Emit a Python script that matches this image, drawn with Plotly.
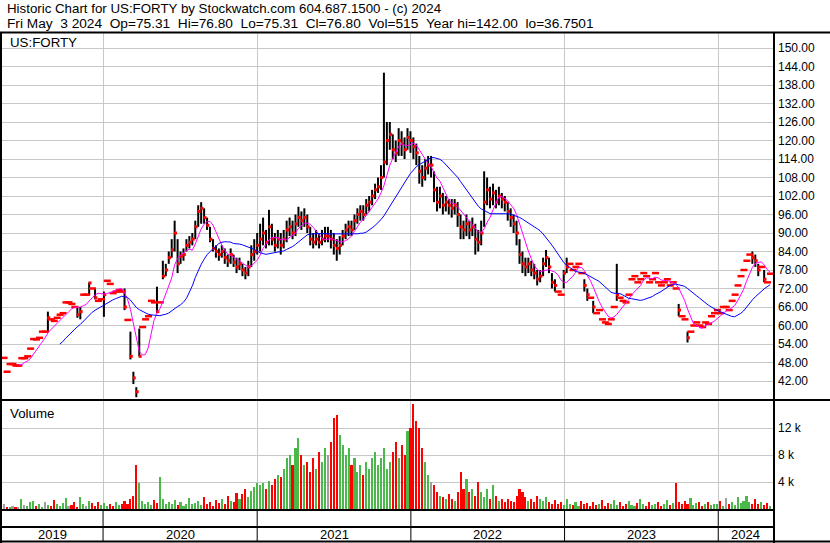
import pandas as pd
import plotly.graph_objects as go

# ---------------- DATA (weekly) ----------------
first_week = "2019-05-10"

close_2019 = [49.5,45,47.5,47.5,47,47,49.4,49.4,50,52.5,55.6,55.5,56,58,58,62.5,62,61.5,62.5,63.5,
              64,67.5,67.5,67,66,63.5,64.5,70,70,73.8,72,69,68,68.5]
high_2019 = [49.6,47,48,48,47.5,47.5,49.5,50,52,55,56,56,57,58.5,59,64.5,63,62.5,63,64,
             65,68,68,68,67,66,66,71,71,74,74,72,70,69.5]
low_2019 = [49.5,44.8,47.4,47.3,46.8,46.9,49.3,49.2,49.8,52,55.2,55,55.8,57.5,57.5,58,61.5,61,62,62.8,
            63.5,67,67,66.5,65.5,62.5,62,69.5,69.8,70,71.5,68.5,67.8,68]
vol_2019 = [0.8,0.3,0.2,0.5,0.3,0.2,1.5,0.6,0.4,1.0,1.2,0.5,0.8,0.3,1.1,0.6,0.4,1.3,0.7,0.5,
            0.9,1.6,0.4,0.6,1.0,0.3,1.8,0.7,0.5,1.2,0.9,0.4,1.1,0.6]

close_2020 = [70,74.5,73.5,70.5,71,71.5,71,66,61.8,50,43,38.5,50,59.5,62,63,68,67.5,64.5,67.5,
              76,78,82,84.5,90,80,82.5,83,86,87,88,92,97,98,95,92.5,88,85,84,83,
              84,82,81,83,80.5,79,80,78,77,79,83,84,86]
high_2020 = [71,75,75,72,72,72,72,72,64,58,45,40,59,60,63,64,69,69,72.6,68,
             81,80,84,88,94,88,84,85,88,89,90,94,99,100,98,95,92,88,86,85,
             86,85,83,85,83,82,82,80,79,81,86,88,90]
low_2020 = [62.8,73,73,70,70.5,71,70.5,65,61.5,49,41,36.75,50,58,61,62,67,66,64,66.5,
            75,76,80,82,84,77,80,81,84,85,86,88,92,93,93,91,87,84,82,81,
            82,80,79,80,79,77,78,76,75,76,79,81,83]
vol_2020 = [0.9,0.5,0.7,0.4,1.0,0.6,0.8,1.2,0.7,1.5,2.0,6.5,
            3.8,1.2,0.8,1.0,0.6,1.4,0.9,4.8,1.5,0.8,1.0,0.7,1.3,0.6,1.1,0.5,0.8,1.6,
            0.7,0.9,1.2,0.6,1.8,0.8,1.0,0.5,1.3,0.9,1.5,0.7,2.0,1.2,1.0,2.4,1.5,2.2,
            3.0,1.8,2.6,3.2,3.8]

close_2021 = [88,90,87,92,88,86,88,86,88,91,92,90,93,95,94,95,92,88,87,88,
              87,88,89,89,88,86,85,86,89,91,92,91,94,96,97,96,99,100,102,104,
              105,108,113,120,122,117,116,120,119,117,121,120]
high_2021 = [93,95,91,97.5,93,90,91,90,91,94,95,94,96,98.5,97,98,96,92,90,91,
             90,91,92,92,91,90,88,89,91,93,94,94,96,98,99,99,101,102,104,106,
             108,112,142,126,126,122,120,124,123,121,124,123]
low_2021 = [84,86,85,86,86,84,85,83,85,87,89,88,89,92,91,92,90,86,85,86,
            85,86,87,87,85,83,81,83,86,88,89,89,91,93,94,94,96,97,99,101,
            103,104,108,112,117,114,113,115,115,114,117,116]
vol_2021 = [3.5,3.8,3.0,4.2,3.6,4.5,5.0,4.8,6.0,7.5,8.0,6.5,9.0,10.5,8.0,6.5,7.0,5.5,7.5,6.0,
            8.5,7.0,9.0,8.0,10.0,13.5,14.0,11.0,9.5,8.0,9.0,6.5,7.5,5.5,6.5,5.0,7.0,6.0,7.5,8.5,
            6.5,7.5,9.0,6.0,7.0,8.5,10.0,7.5,9.5,8.0,11.5,12.0]

close_2022 = [118,116,110,108,111,112,112,104,100,102,99,100,99,98,99,96,92,91,93,91,
              92,88,87,90,100,104,101,103,100,102,101,100,97,95,93,90,83,80,79,80,
              78,77,75,76,80,82,79,74,73,71,70,77]
high_2022 = [121,119,115,112,114,115,115,110,105,105,103,102,101,101,101,100,96,94,96,94,
             95,93,91,94,110,108,105,106,104,105,103,102,100,98,96,94,88,84,82,82,
             81,80,78,78,82,84.5,82,77,75,73,72,78]
low_2022 = [114,112,106,105,107,109,108,100,97,98,96,97,96,95,96,92,88,88,89,88,
            89,83,84,86,92,99,98,99,98,99,98,97,94,92,90,86,80,77,76,77,
            76,75,73,74,76,79,77,72,71,70,69,72]
vol_2022 = [15.5,13.0,12.0,9.0,7.0,5.0,4.0,3.5,2.5,2.0,1.8,1.5,2.2,1.5,1.2,2.5,5.5,3.0,4.5,2.5,
            3.0,2.0,4.0,2.5,1.8,3.0,1.5,3.5,2.0,1.2,1.5,1.0,1.5,1.2,1.0,2.0,3.0,2.5,1.8,1.2,
            1.5,1.0,2.0,1.5,1.2,1.8,1.0,0.8,1.3,0.7,1.0,0.6]

close_2023 = [79,80,78,79,80,77,73,70,69,66,64,65,62,61,60.5,62,66,70,69,68,
              67.5,70,75,76,74,75,77,76,74,75,77,74,73,74,75,73,74,72,65,63,
              62,56,58,60,61,60,59.5,61,60.5,63,64]
high_2023 = [82,81,79,80,81,78,75,72,70,68,65,66,63,62,61,63,68,80,70,69,
             68,71,76,77,76,76,78,78,75,76,78,75,74,75,76,74,75,74,67,64,
             63,58,59,61,62,61,60,62,61,64,65]
low_2023 = [77,79,77,78,79,75,71,68,68,64,63,63,61,60,60,61,65,68,68,67,
            67,69,73,75,73,74,76,75,73,74,75,73,72,73,74,72,73,71,63,62,
            60,54.5,57,59,60,59,59,60,60,62,63]
vol_2023 = [1.5,0.8,0.6,1.0,0.5,1.2,0.7,0.9,0.4,1.1,0.6,0.8,1.3,0.5,0.9,0.7,1.4,0.6,1.0,0.5,
            0.8,1.2,0.6,0.4,0.9,1.5,0.7,0.5,1.1,0.6,0.8,1.0,0.5,0.7,1.3,0.6,0.9,3.8,1.0,0.7,
            1.2,0.8,1.6,0.6,0.9,1.1,0.5,0.8,1.0,0.6,0.7]

close_2024 = [65,64,66,66,65,68,70,73,76,78,81,83,82,81,78,79,75,74,76.8]
high_2024 = [66,65,67,67,66,69,71,75,77,79,82,84,84,83,80,80,78,76,76.8]
low_2024 = [64,63,65,65,64,66,68,72,74,76,79,82,80,79,76,77,74,73,75.31]
vol_2024 = [0.8,1.2,0.5,1.6,0.7,1.0,0.6,1.8,0.9,1.2,2.0,1.0,0.7,1.5,0.8,1.1,0.6,0.9,0.5]

price_ticks = [42,48,54,60,66,72,78,84,90,96,102,108,114,120,126,132,138,144,150]
volume_ticks = [4, 8, 12]
volume_tick_text = ["4 k", "8 k", "12 k"]
year_starts = ["2020-01-01", "2021-01-01", "2022-01-01", "2023-01-01", "2024-01-01"]
year_labels = ["2019", "2020", "2021", "2022", "2023", "2024"]
view_start, view_end = "2019-05-06", "2024-05-10"

title1 = "Historic Chart for US:FORTY by Stockwatch.com 604.687.1500 - (c) 2024"
title2 = ("Fri May\u00a0\u00a03 2024\u00a0\u00a0Op=75.31\u00a0\u00a0Hi=76.80\u00a0\u00a0Lo=75.31\u00a0\u00a0"
          "Cl=76.80\u00a0\u00a0Vol=515\u00a0\u00a0Year hi=142.00\u00a0\u00a0lo=36.7501")

# ---------------- assemble ----------------
close = close_2019 + close_2020 + close_2021 + close_2022 + close_2023 + close_2024
high = high_2019 + high_2020 + high_2021 + high_2022 + high_2023 + high_2024
low = low_2019 + low_2020 + low_2021 + low_2022 + low_2023 + low_2024
vol = vol_2019 + vol_2020 + vol_2021 + vol_2022 + vol_2023 + vol_2024
assert len(close) == len(high) == len(low) == len(vol)

dates = pd.date_range(first_week, periods=len(close), freq="7D")
s = pd.Series(close, index=dates)
ma_short = s.rolling(6).mean()
ma_long = s.rolling(20).mean()

vol_colors = []
prev = None
for c in close:
    if prev is None or c == prev:
        vol_colors.append("#a0a0a0")
    elif c > prev:
        vol_colors.append("#4cb84c")
    else:
        vol_colors.append("#ff0000")
    prev = c

# black high-low bars for weeks with a real range; red dashes for quiet weeks
bx, by, tx, ty = [], [], [], []
qx, qy = [], []
for d, h, l, c in zip(dates, high, low, close):
    if h - l > 3:
        bx += [d, d, None]
        by += [l, h, None]
        tx.append(d + pd.Timedelta(days=2))
        ty.append(c)
    else:
        qx.append(d + pd.Timedelta(days=1))
        qy.append(c)

W, H = 830, 543
L, R, T, B = 2, 773, 33, 542


def px_x(p):
    return (p - L) / (R - L)


def px_y(p):
    return (B - p) / (B - T)


fig = go.Figure()
fig.add_trace(go.Scatter(x=bx, y=by, mode="lines", line=dict(color="black", width=2),
                         hoverinfo="skip", xaxis="x", yaxis="y"))
fig.add_trace(go.Scatter(x=tx, y=ty, mode="markers",
                         marker=dict(symbol="square", size=3, color="#ff0000", line=dict(width=0)),
                         xaxis="x", yaxis="y"))
fig.add_trace(go.Scatter(x=qx, y=qy, mode="markers",
                         marker=dict(symbol="line-ew", size=5, line=dict(color="#ff0000", width=2.5)),
                         xaxis="x", yaxis="y"))
fig.add_trace(go.Scatter(x=dates, y=ma_short, mode="lines", line=dict(color="#ff00ff", width=1),
                         xaxis="x", yaxis="y"))
fig.add_trace(go.Scatter(x=dates, y=ma_long, mode="lines", line=dict(color="#0000ff", width=1),
                         xaxis="x", yaxis="y"))
fig.add_trace(go.Bar(x=dates, y=vol, marker=dict(color=vol_colors, line=dict(width=0)),
                     width=5 * 24 * 3600 * 1000, xaxis="x2", yaxis="y2"))

grid = "#c8c8c8"
font = "Liberation Sans, Arial, sans-serif"

price_dom = [px_y(400), 1.0]
vol_dom = [px_y(509), px_y(401)]
vol_top = 12 + (428 - 401) / ((509 - 428) / 12)

fig.update_layout(
    width=W, height=H, showlegend=False,
    margin=dict(l=L, r=W - R, t=T, b=H - B, autoexpand=False),
    paper_bgcolor="white", plot_bgcolor="white",
    font=dict(family=font, size=12, color="black"),
    xaxis=dict(domain=[0, 1], range=[view_start, view_end], type="date", anchor="y",
               tickvals=year_starts, showticklabels=False, ticks="", showgrid=True,
               gridcolor=grid, gridwidth=1, zeroline=False, showline=False),
    xaxis2=dict(domain=[0, 1], range=[view_start, view_end], type="date", anchor="y2",
                matches="x", tickvals=year_starts, showticklabels=False, ticks="", showgrid=True,
                gridcolor=grid, gridwidth=1, zeroline=False, showline=False),
    yaxis=dict(domain=price_dom, range=[42 - (400 - 381) / (333 / 108), 150 + (48 - 33) / (333 / 108)],
               side="right", tickvals=price_ticks, ticktext=[f"{v:.2f}" for v in price_ticks],
               showgrid=True, gridcolor=grid, zeroline=False, showline=False, ticks="",
               ticklabelstandoff=4, tickfont=dict(size=12, family=font, color="black"), automargin=False),
    yaxis2=dict(domain=vol_dom, range=[0, vol_top], side="right", tickvals=volume_ticks,
                ticktext=volume_tick_text, showgrid=True, gridcolor=grid, zeroline=False,
                showline=False, ticks="", ticklabelstandoff=4,
                tickfont=dict(size=12, family=font, color="black"), automargin=False),
    bargap=0,
)

shapes = []


def hline(py, x0, x1, w=2):
    shapes.append(dict(type="line", xref="paper", yref="paper", x0=px_x(x0), x1=px_x(x1),
                       y0=px_y(py), y1=px_y(py), line=dict(color="black", width=w)))


def vline(px, y0, y1, w=2):
    shapes.append(dict(type="line", xref="paper", yref="paper", x0=px_x(px), x1=px_x(px),
                       y0=px_y(y0), y1=px_y(y1), line=dict(color="black", width=w)))


hline(32.5, 0, 830)
hline(400, 0, 830)
hline(510, 0, 774)
hline(527, 0, 774)
hline(541.5, 0, 830)
vline(1, 33, 543)
vline(774, 33, 543)
for ys in year_starts:
    shapes.append(dict(type="line", xref="x", yref="paper", x0=ys, x1=ys,
                       y0=px_y(541), y1=px_y(511), line=dict(color="#000000", width=1)))
fig.update_layout(shapes=shapes)

ann = []
tfont = dict(size=13.3, family=font, color="black")
ann.append(dict(text=title1, x=px_x(5), y=px_y(9), xref="paper", yref="paper", xanchor="left",
                yanchor="middle", showarrow=False, font=tfont))
ann.append(dict(text=title2, x=px_x(5), y=px_y(23), xref="paper", yref="paper", xanchor="left",
                yanchor="middle", showarrow=False, font=dict(size=13.7, family=font, color="black")))
ann.append(dict(text="US:FORTY", x=px_x(8), y=px_y(42), xref="paper", yref="paper", xanchor="left",
                yanchor="middle", showarrow=False, font=tfont))
ann.append(dict(text="Volume", x=px_x(8), y=px_y(413), xref="paper", yref="paper", xanchor="left",
                yanchor="middle", showarrow=False, font=tfont))

bounds = [pd.Timestamp(view_start)] + [pd.Timestamp(y) for y in year_starts] + [pd.Timestamp(view_end)]
for lab, a, b in zip(year_labels, bounds[:-1], bounds[1:]):
    mid = a + (b - a) / 2
    ann.append(dict(text=lab, x=mid, y=px_y(534), xref="x", yref="paper", xanchor="center",
                    yanchor="middle", showarrow=False, font=dict(size=13, family=font, color="black")))
fig.update_layout(annotations=ann)

fig.write_html("out.html", config={"displayModeBar": False},
               post_script="document.body.style.margin='0';")
